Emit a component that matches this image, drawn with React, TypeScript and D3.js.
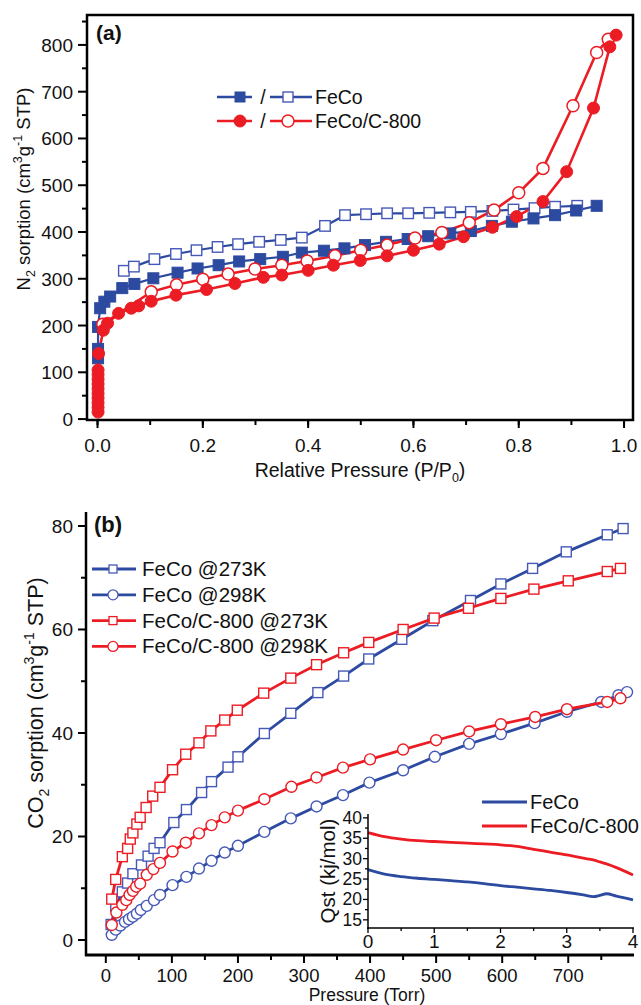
import React from "react";
import * as d3 from "d3";

// ---------- Panel (a): N2 sorption ----------
const feCoAdsP = [0.001, 0.001, 0.001, 0.005, 0.013, 0.024, 0.047, 0.07, 0.106, 0.152, 0.19, 0.23, 0.269, 0.309, 0.352, 0.388, 0.43, 0.469, 0.508, 0.548, 0.589, 0.628, 0.67, 0.709, 0.749, 0.787, 0.828, 0.869, 0.909, 0.948];
const feCoAdsV = [130, 150, 197, 237, 251, 262, 280, 289, 301, 313, 322, 329, 337, 342, 347, 356, 360, 365, 372, 379, 385, 391, 397, 402, 413, 422, 429, 436, 446, 456];
const feCoDesP = [0.05, 0.069, 0.108, 0.149, 0.188, 0.228, 0.267, 0.307, 0.348, 0.388, 0.432, 0.47, 0.51, 0.55, 0.59, 0.63, 0.67, 0.709, 0.75, 0.79, 0.83, 0.869, 0.911];
const feCoDesV = [317, 326, 342, 353, 361, 368, 374, 379, 383, 388, 413, 436, 438, 440, 440, 441, 442, 443, 445, 448, 451, 454, 456];
const c800AdsP = [0.001, 0.001, 0.001, 0.001, 0.001, 0.001, 0.001, 0.001, 0.001, 0.001, 0.002, 0.011, 0.019, 0.04, 0.064, 0.078, 0.102, 0.149, 0.207, 0.261, 0.315, 0.35, 0.4, 0.448, 0.499, 0.55, 0.6, 0.649, 0.695, 0.75, 0.796, 0.846, 0.891, 0.942, 0.973, 0.985];
const c800AdsV = [15, 25, 35, 45, 55, 65, 75, 85, 95, 105, 140, 190, 205, 226, 237, 242, 252, 265, 277, 290, 303, 308, 318, 329, 339, 349, 361, 374, 390, 410, 433, 465, 529, 665, 796, 821];
const c800DesP = [0.01, 0.102, 0.15, 0.2, 0.248, 0.299, 0.35, 0.398, 0.451, 0.5, 0.55, 0.603, 0.654, 0.706, 0.753, 0.8, 0.846, 0.903, 0.948, 0.97];
const c800DesV = [203, 272, 287, 299, 310, 321, 329, 338, 349, 361, 372, 387, 399, 420, 447, 484, 536, 670, 784, 812];
const aXTicks = [0, 0.2, 0.4, 0.6, 0.8, 1.0];
const aYTicks = [0, 100, 200, 300, 400, 500, 600, 700, 800];

// ---------- Panel (b): CO2 sorption ----------
const feCo273P = [8, 15, 25, 33, 41, 54, 64, 73, 82, 103, 122, 145, 160, 185, 200, 240, 280, 321, 360, 398, 448, 495, 552, 598, 646, 697, 759, 783];
const feCo273V = [3, 6.5, 9.3, 11, 12.8, 14.5, 16.2, 17.7, 18.8, 22.7, 25.2, 28.5, 30.6, 33.4, 35.4, 39.9, 43.8, 47.8, 51, 54.3, 58.1, 61.7, 65.6, 68.8, 71.8, 75, 78.3, 79.5];
const feCo298P = [9, 15, 22, 29, 35, 41, 47, 53, 62, 73, 82, 101, 122, 141, 160, 180, 200, 240, 280, 319, 359, 399, 450, 498, 550, 598, 649, 698, 750, 776, 789];
const feCo298V = [1, 2, 2.8, 3.5, 4, 4.5, 5.1, 5.8, 6.6, 7.7, 8.7, 10.6, 12.2, 13.8, 15.3, 16.9, 18.2, 20.9, 23.5, 25.8, 28, 30.4, 32.8, 35.4, 37.9, 39.8, 41.9, 44.1, 46, 47.3, 47.9];
const c800273P = [9, 15, 25, 33, 37, 41, 47, 52, 61, 71, 82, 101, 121, 141, 159, 180, 199, 239, 280, 319, 360, 398, 450, 497, 549, 598, 648, 700, 759, 779];
const c800273V = [7.9, 11.7, 16.1, 17.7, 19.5, 20.7, 22.4, 23.7, 25.6, 27.8, 29.5, 32.9, 35.9, 38.1, 40.4, 42.5, 44.4, 47.7, 50.6, 53.2, 55.5, 57.5, 60, 62.2, 64.1, 66, 67.8, 69.4, 71.2, 71.8];
const c800298P = [9, 16, 25, 31, 36, 41, 46, 52, 62, 72, 82, 101, 121, 141, 160, 180, 200, 240, 281, 319, 359, 400, 450, 500, 550, 598, 650, 698, 759, 779];
const c800298V = [2.9, 5.3, 6.8, 7.7, 8.7, 9.5, 10.3, 10.9, 12.6, 13.7, 14.9, 17.1, 18.8, 20.6, 22.2, 23.7, 25, 27.2, 29.6, 31.4, 33.3, 34.9, 36.8, 38.6, 40.3, 41.7, 43.1, 44.6, 46, 46.7];
const bXTicks = [0, 100, 200, 300, 400, 500, 600, 700];
const bYTicks = [0, 20, 40, 60, 80];
const bLegend = ["FeCo @273K", "FeCo @298K", "FeCo/C-800 @273K", "FeCo/C-800 @298K"];

// ---------- Inset: Qst ----------
const qstX = [0, 0.25, 0.5, 0.75, 1, 1.25, 1.5, 1.75, 2, 2.25, 2.5, 2.75, 3, 3.25, 3.4, 3.5, 3.6, 3.75, 4];
const qstC800 = [36.4, 35.4, 34.8, 34.4, 34.2, 34.0, 33.8, 33.6, 33.4, 33.0, 32.3, 31.6, 30.9, 30.1, 29.7, 29.2, 28.7, 27.8, 26];
const qstFeCo = [27.3, 26.2, 25.6, 25.2, 24.9, 24.6, 24.3, 23.9, 23.4, 23.0, 22.6, 22.2, 21.7, 21.1, 20.7, 21.0, 21.4, 20.8, 19.9];
const insetXTicks = [0, 1, 2, 3, 4];
const insetYTicks = [15, 20, 25, 30, 35, 40];

const BLUE = "#2C4AA0";
const BLUE_M = "#4759B8";
const RED = "#EC1C24";
const FONT = "Arial, 'Liberation Sans', Helvetica, sans-serif";

const zip = (xs: number[], ys: number[]) => xs.map((x, i) => [x, ys[i]] as [number, number]);

export default function App() {
  const ax = d3.scaleLinear().domain([-0.02, 1.017]).range([87, 633]);
  const ay = d3.scaleLinear().domain([-2, 864]).range([420, 15]);
  const aLine = d3.line<[number, number]>().x(d => ax(d[0])).y(d => ay(d[1]));

  const bx = d3.scaleLinear().domain([-30, 798]).range([86, 633]);
  const by = d3.scaleLinear().domain([-2.9, 82.7]).range([955, 512]);
  const bLine = d3.line<[number, number]>().x(d => bx(d[0])).y(d => by(d[1]));

  const ix = d3.scaleLinear().domain([0, 4]).range([368, 633]);
  const iy = d3.scaleLinear().domain([13, 40.7]).range([928, 815]);
  const iLine = d3.line<[number, number]>().x(d => ix(d[0])).y(d => iy(d[1])).curve(d3.curveMonotoneX);

  const sq = (cx: number, cy: number, s: number, fill: string, stroke: string, sw: number, key: any) => (
    <rect key={key} x={cx - s / 2} y={cy - s / 2} width={s} height={s} fill={fill} stroke={stroke} strokeWidth={sw} />
  );
  const ci = (cx: number, cy: number, r: number, fill: string, stroke: string, sw: number, key: any) => (
    <circle key={key} cx={cx} cy={cy} r={r} fill={fill} stroke={stroke} strokeWidth={sw} />
  );

  const aMinorX = d3.range(0, 1.01, 0.1);
  const aMinorY = d3.range(50, 851, 100);
  const bMinorX = d3.range(50, 751, 100);
  const bMinorY = d3.range(10, 81, 20);

  const feCoAds = zip(feCoAdsP, feCoAdsV);
  const feCoDes = zip(feCoDesP, feCoDesV);
  const c800Ads = zip(c800AdsP, c800AdsV);
  const c800Des = zip(c800DesP, c800DesV);

  const bSeries = [
    { data: zip(feCo273P, feCo273V), color: BLUE, mcolor: BLUE_M, shape: "sq" },
    { data: zip(feCo298P, feCo298V), color: BLUE, mcolor: BLUE_M, shape: "ci" },
    { data: zip(c800273P, c800273V), color: RED, mcolor: RED, shape: "sq" },
    { data: zip(c800298P, c800298V), color: RED, mcolor: RED, shape: "ci" },
  ];

  return (
    <svg width={641} height={1005} style={{ position: "absolute", left: 0, top: 0, background: "#fff" }} fontFamily={FONT}>
      <rect x={0} y={0} width={641} height={1005} fill="#fff" />
      {/* ================= Panel (a) ================= */}
      <g>
        <path d={aLine(feCoAds) || ""} fill="none" stroke={BLUE} strokeWidth={2.2} />
        <path d={aLine(feCoDes) || ""} fill="none" stroke={BLUE} strokeWidth={2.2} />
        <path d={aLine(c800Ads) || ""} fill="none" stroke={RED} strokeWidth={2.6} />
        <path d={aLine(c800Des) || ""} fill="none" stroke={RED} strokeWidth={2.6} />
        {feCoDes.map((d, i) => sq(ax(d[0]), ay(d[1]), 10.5, "#fff", BLUE_M, 1.4, "fd" + i))}
        {feCoAds.map((d, i) => sq(ax(d[0]), ay(d[1]), 11, BLUE, BLUE, 1, "fa" + i))}
        {c800Des.map((d, i) => ci(ax(d[0]), ay(d[1]), 6, "#fff", RED, 1.5, "cd" + i))}
        {c800Ads.map((d, i) => ci(ax(d[0]), ay(d[1]), 6, RED, RED, 1, "ca" + i))}

        <rect x={87} y={15} width={546} height={405} fill="none" stroke="#000" strokeWidth={2.5} />
        {aMinorX.map((t, i) => (
          <line key={"axm" + i} x1={ax(t)} x2={ax(t)} y1={420} y2={425} stroke="#000" strokeWidth={2} />
        ))}
        {aXTicks.map((t, i) => (
          <g key={"axt" + i}>
            <line x1={ax(t)} x2={ax(t)} y1={420} y2={428} stroke="#000" strokeWidth={2} />
            <text x={ax(t)} y={452} fontSize={19} textAnchor="middle" fill="#111">{t.toFixed(1)}</text>
          </g>
        ))}
        {aMinorY.map((t, i) => (
          <line key={"aym" + i} x1={82} x2={87} y1={ay(t)} y2={ay(t)} stroke="#000" strokeWidth={2} />
        ))}
        {aYTicks.map((t, i) => (
          <g key={"ayt" + i}>
            <line x1={78} x2={87} y1={ay(t)} y2={ay(t)} stroke="#000" strokeWidth={2} />
            <text x={73} y={ay(t) + 7} fontSize={19} textAnchor="end" fill="#111">{t}</text>
          </g>
        ))}
        <text x={360} y={477} fontSize={19.5} textAnchor="middle" fill="#111">
          Relative Pressure (P/P<tspan fontSize={12.5} dy={5}>0</tspan><tspan dy={-5}>)</tspan>
        </text>
        <text transform="translate(30,189) rotate(-90)" fontSize={18.5} textAnchor="middle" fill="#111">
          N<tspan fontSize={12.5} dy={5}>2</tspan><tspan dy={-5}> sorption (cm</tspan><tspan fontSize={12.5} dy={-8}>3</tspan><tspan dy={8}>g</tspan><tspan fontSize={12.5} dy={-8}>-1</tspan><tspan dy={8}> STP)</tspan>
        </text>
        <text x={96} y={40} fontSize={21} fontWeight="bold" fill="#111">(a)</text>

        {/* legend */}
        <line x1={217} x2={252} y1={97} y2={97} stroke={BLUE} strokeWidth={2.5} />
        <line x1={270} x2={312} y1={97} y2={97} stroke={BLUE} strokeWidth={2.5} />
        {sq(240, 97, 10, BLUE, BLUE, 1, "lg1")}
        <text x={263} y={104} fontSize={19.5} textAnchor="middle" fill="#111">/</text>
        {sq(288, 97, 10, "#fff", BLUE_M, 1.4, "lg2")}
        <text x={315} y={104} fontSize={19.5} fill="#111">FeCo</text>
        <line x1={217} x2={252} y1={121} y2={121} stroke={RED} strokeWidth={2.5} />
        <line x1={270} x2={312} y1={121} y2={121} stroke={RED} strokeWidth={2.5} />
        {ci(240, 121, 6, RED, RED, 1, "lg3")}
        <text x={263} y={128} fontSize={19.5} textAnchor="middle" fill="#111">/</text>
        {ci(288, 121, 6, "#fff", RED, 1.5, "lg4")}
        <text x={315} y={128} fontSize={19.5} fill="#111">FeCo/C-800</text>
      </g>

      {/* ================= Panel (b) ================= */}
      <g>
        {bSeries.map((s, si) => (
          <g key={"bs" + si}>
            <path d={bLine(s.data) || ""} fill="none" stroke={s.color} strokeWidth={2.8} />
            {s.data.map((d, i) =>
              s.shape === "sq"
                ? sq(bx(d[0]), by(d[1]), 10, "#fff", s.mcolor, 1.4, "b" + si + "_" + i)
                : ci(bx(d[0]), by(d[1]), 5.5, "#fff", s.mcolor, 1.4, "b" + si + "_" + i)
            )}
          </g>
        ))}

        <line x1={86} x2={86} y1={512} y2={956} stroke="#000" strokeWidth={2.5} />
        <line x1={85} x2={634} y1={955} y2={955} stroke="#000" strokeWidth={3} />
        {bMinorX.map((t, i) => (
          <line key={"bxm" + i} x1={bx(t)} x2={bx(t)} y1={955} y2={960} stroke="#000" strokeWidth={2} />
        ))}
        {bXTicks.map((t, i) => (
          <g key={"bxt" + i}>
            <line x1={bx(t)} x2={bx(t)} y1={955} y2={963} stroke="#000" strokeWidth={2} />
            <text x={bx(t)} y={981.5} fontSize={18.5} textAnchor="middle" fill="#111">{t}</text>
          </g>
        ))}
        {bMinorY.map((t, i) => (
          <line key={"bym" + i} x1={81} x2={86} y1={by(t)} y2={by(t)} stroke="#000" strokeWidth={2} />
        ))}
        {bYTicks.map((t, i) => (
          <g key={"byt" + i}>
            <line x1={78} x2={86} y1={by(t)} y2={by(t)} stroke="#000" strokeWidth={2} />
            <text x={73} y={by(t) + 7} fontSize={19} textAnchor="end" fill="#111">{t}</text>
          </g>
        ))}
        <text x={367} y={1001.3} fontSize={17.5} textAnchor="middle" fill="#111">Pressure (Torr)</text>
        <text transform="translate(43,703) rotate(-90)" fontSize={21.5} textAnchor="middle" fill="#111">
          CO<tspan fontSize={14} dy={6}>2</tspan><tspan dy={-6}> sorption (cm</tspan><tspan fontSize={14} dy={-9}>3</tspan><tspan dy={9}>g</tspan><tspan fontSize={14} dy={-9}>-1</tspan><tspan dy={9}> STP)</tspan>
        </text>
        <text x={94} y={532} fontSize={22} fontWeight="bold" fill="#111">(b)</text>

        {bLegend.map((name, i) => {
          const y = 569 + i * 25.8;
          const s = bSeries[i];
          return (
            <g key={"bl" + i}>
              <line x1={92} x2={136} y1={y} y2={y} stroke={s.color} strokeWidth={2.8} />
              {s.shape === "sq"
                ? sq(113, y, 8, "#fff", s.mcolor, 1.3, "bls" + i)
                : ci(113, y, 5, "#fff", s.mcolor, 1.3, "blc" + i)}
              <text x={142} y={y + 7} fontSize={20.5} fill="#111">{name}</text>
            </g>
          );
        })}

        {/* inset */}
        <path d={iLine(zip(qstX, qstFeCo)) || ""} fill="none" stroke={BLUE} strokeWidth={2.8} />
        <path d={iLine(zip(qstX, qstC800)) || ""} fill="none" stroke={RED} strokeWidth={2.8} />
        <line x1={368} x2={368} y1={814} y2={929} stroke="#000" strokeWidth={1.5} />
        <line x1={367} x2={634} y1={928} y2={928} stroke="#000" strokeWidth={1.5} />
        {d3.range(0.5, 4, 1).map((t, i) => (
          <line key={"ixm" + i} x1={ix(t)} x2={ix(t)} y1={928} y2={931} stroke="#000" strokeWidth={1.3} />
        ))}
        {insetXTicks.map((t, i) => (
          <g key={"ixt" + i}>
            <line x1={ix(t)} x2={ix(t)} y1={928} y2={933} stroke="#000" strokeWidth={1.3} />
            <text x={ix(t)} y={948} fontSize={19} textAnchor="middle" fill="#111">{t}</text>
          </g>
        ))}
        {d3.range(17.5, 40, 5).map((t, i) => (
          <line key={"iym" + i} x1={365} x2={368} y1={iy(t)} y2={iy(t)} stroke="#000" strokeWidth={1.3} />
        ))}
        {insetYTicks.map((t, i) => (
          <g key={"iyt" + i}>
            <line x1={363} x2={368} y1={iy(t)} y2={iy(t)} stroke="#000" strokeWidth={1.3} />
            <text x={362} y={iy(t) + 6} fontSize={17.5} textAnchor="end" fill="#111">{t}</text>
          </g>
        ))}
        <text transform="translate(335,871) rotate(-90)" fontSize={20.5} textAnchor="middle" fill="#111">Qst (kj/mol)</text>
        <line x1={482} x2={527} y1={802} y2={802} stroke={BLUE} strokeWidth={3} />
        <text x={530} y={809} fontSize={20} fill="#111">FeCo</text>
        <line x1={482} x2={527} y1={826} y2={826} stroke={RED} strokeWidth={3} />
        <text x={530} y={833} fontSize={20} fill="#111">FeCo/C-800</text>
      </g>
    </svg>
  );
}
